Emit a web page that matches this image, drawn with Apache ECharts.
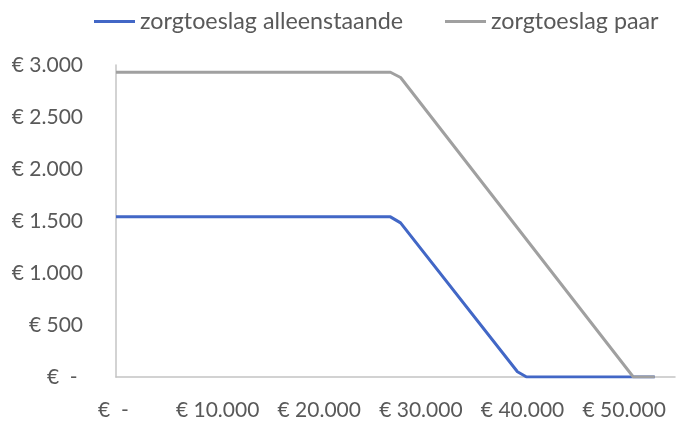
<!DOCTYPE html>
<html>
<head>
<meta charset="utf-8">
<script src="https://cdn.jsdelivr.net/npm/echarts@6/dist/echarts.min.js"></script>
<style>
  * { margin: 0; padding: 0; }
  body { background: #fff; }
  #chart { width: 678px; height: 425px; }
</style>
</head>
<body>
<div id="chart"></div>
<script>
// data (income in euro, allowance in euro)
const seriesNames = ["zorgtoeslag alleenstaande", "zorgtoeslag paar"];
const singleIncome = [0, 27000, 28000, 39500, 40400, 53000];
const singleAmount = [1540, 1540, 1482, 50, 0, 0];
const coupleIncome = [0, 27000, 28000, 50900, 53000];
const coupleAmount = [2930, 2930, 2880, 0, 0];

// accounting style: zero shows as a dash
function euro(v) {
  if (v === 0) return "€  - ";
  return "€ " + v.toLocaleString("de-DE");
}

function pairs(xs, ys) {
  return xs.map((x, i) => [x, ys[i]]);
}

const chart = echarts.init(document.getElementById("chart"));

const labelFont = {
  color: "#595959",
  fontFamily: "Lato",
  fontSize: 21,
};

const option = {
  animation: false,
  legend: {
    left: 89,
    top: 5,
    itemWidth: 41,
    itemHeight: 3,
    itemGap: 42,
    icon: "rect",
    textStyle: { ...labelFont, fontSize: 23.3 },
    data: seriesNames,
  },
  grid: {
    left: 116,
    right: 3,
    top: 65,
    bottom: 48,
  },
  xAxis: {
    type: "value",
    min: 0,
    max: 55000,
    interval: 10000,
    splitLine: { show: false },
    axisTick: { show: false },
    axisLine: { lineStyle: { color: "#c4c4c4", width: 1.5 } },
    axisLabel: {
      ...labelFont,
      margin: 23,
      showMaxLabel: false,
      formatter: euro,
    },
  },
  yAxis: {
    type: "value",
    min: 0,
    max: 3000,
    interval: 500,
    splitLine: { show: false },
    axisTick: { show: false },
    axisLine: { show: true, lineStyle: { color: "#c4c4c4", width: 1.5 } },
    axisLabel: {
      ...labelFont,
      margin: 33,
      formatter: euro,
    },
  },
  series: [
    {
      name: seriesNames[0],
      type: "line",
      symbol: "none",
      lineStyle: { color: "#4267c6", width: 3 },
      itemStyle: { color: "#4267c6" },
      data: pairs(singleIncome, singleAmount),
    },
    {
      name: seriesNames[1],
      type: "line",
      symbol: "none",
      lineStyle: { color: "#a0a0a0", width: 3 },
      itemStyle: { color: "#a0a0a0" },
      data: pairs(coupleIncome, coupleAmount),
    },
  ],
};

chart.setOption(option);
</script>
</body>
</html>
